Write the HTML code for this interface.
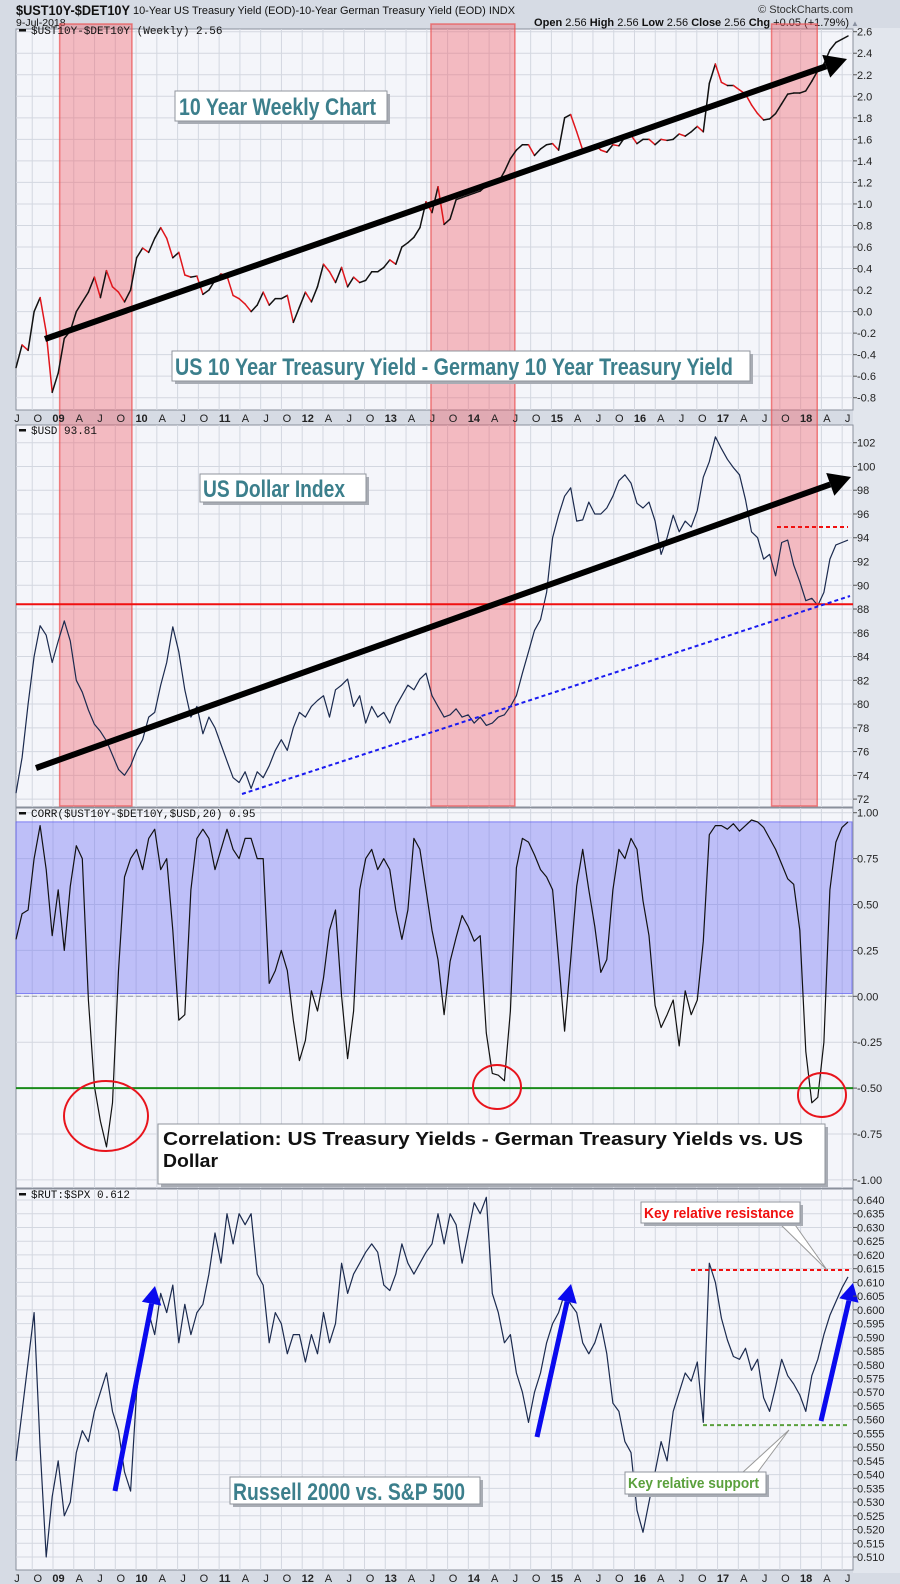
<!DOCTYPE html>
<html><head><meta charset="utf-8"><title>$UST10Y-$DET10Y</title>
<style>
html,body{margin:0;padding:0;background:#d6dbe4;}
svg{display:block;font-family:"Liberation Sans",sans-serif;}
</style></head>
<body>
<svg id="chart" width="900" height="1584" viewBox="0 0 900 1584" xmlns="http://www.w3.org/2000/svg">
<rect x="0" y="0" width="900" height="1584" fill="#d6dbe4"/>
<rect x="853" y="28" width="47" height="1545" fill="#e2e6ed"/>
<g>
<text x="16" y="15" font-size="14" font-weight="bold" fill="#111" textLength="114" lengthAdjust="spacingAndGlyphs">$UST10Y-$DET10Y</text>
<text x="133" y="14" font-size="11" fill="#111" textLength="382" lengthAdjust="spacingAndGlyphs">10-Year US Treasury Yield (EOD)-10-Year German Treasury Yield (EOD)  INDX</text>
<text x="16" y="26" font-size="10.5" fill="#111">9-Jul-2018</text>
<text x="853" y="13" font-size="11" fill="#333" text-anchor="end">© StockCharts.com</text>
<text x="849" y="26" font-size="11" fill="#111" text-anchor="end"><tspan font-weight="bold">Open</tspan> 2.56  <tspan font-weight="bold">High</tspan> 2.56  <tspan font-weight="bold">Low</tspan> 2.56  <tspan font-weight="bold">Close</tspan> 2.56  <tspan font-weight="bold">Chg</tspan> +0.05 (+1.79%)</text>
<text x="851" y="26" font-size="8" fill="#8890a0">▲</text>
</g>
<g id="layer-bg"></g>
<g id="layer-grid"></g>
<g id="layer-bands"></g>
<g id="layer-series"></g>
<g id="layer-annot"></g>
<g id="layer-axes"></g>
</svg>
<script>
const startDate = 2008.555;
const endDate = 2018.57;
const spreadValues = [-0.52,-0.31,-0.36,0.0,0.13,-0.19,-0.75,-0.57,-0.25,-0.18,0.0,0.09,0.18,0.32,0.13,0.38,0.23,0.18,0.09,0.2,0.5,0.59,0.55,0.68,0.78,0.68,0.5,0.55,0.34,0.32,0.33,0.16,0.2,0.29,0.35,0.33,0.15,0.12,0.07,0.0,0.06,0.18,0.06,0.12,0.12,0.15,-0.1,0.04,0.18,0.09,0.23,0.44,0.37,0.27,0.41,0.23,0.32,0.27,0.29,0.37,0.37,0.41,0.48,0.44,0.6,0.64,0.69,0.78,1.02,0.92,1.16,0.81,0.86,1.04,1.06,1.08,1.1,1.12,1.17,1.19,1.2,1.3,1.42,1.5,1.55,1.55,1.45,1.51,1.55,1.56,1.5,1.8,1.83,1.67,1.5,1.51,1.55,1.5,1.48,1.55,1.54,1.62,1.64,1.56,1.6,1.6,1.55,1.6,1.59,1.6,1.65,1.63,1.67,1.72,1.67,2.12,2.3,2.13,2.1,2.1,2.06,2.02,1.92,1.84,1.78,1.79,1.84,1.93,2.02,2.03,2.03,2.05,2.14,2.24,2.3,2.43,2.5,2.53,2.56];
const usdValues = [72.5,75.5,80,84,86.6,85.8,83.5,85.3,87,85.3,82,81,79.5,78.3,77.7,76.9,75.7,74.5,74,74.8,76.1,77,78.9,79.3,81.6,83.5,86.5,84.4,81.2,78.9,79.8,77.5,78.9,78,76.6,75.2,73.8,73.4,74.3,72.9,74.3,73.8,74.8,76.1,77,76.1,78,79.3,78.9,79.8,80.3,80.7,78.9,81.2,81.6,82.1,79.8,80.7,78.4,79.8,78.9,79.3,78.4,79.8,80.7,81.6,81.2,82.1,82.6,80.7,79.8,78.9,79.1,79.6,78.9,79.1,78.4,78.9,78.2,78.4,78.9,79.1,79.8,80.7,82.6,84.4,86.2,87.1,89.4,94,95.9,97.5,98.2,95.4,95.5,97,96,96,96.5,97.5,98.8,99.3,98.6,96.9,96.5,97,95.4,92.6,94,95.9,94.5,95.4,94.9,96.3,99.1,100.4,102.5,101.5,100.6,99.9,99.3,97.2,94.5,94,92.2,92.6,90.8,93.6,93.8,91.7,90.3,88.7,88.9,88.3,89.4,92.2,93.4,93.6,93.8];
const corrValues = [0.31,0.45,0.47,0.75,0.93,0.69,0.33,0.58,0.25,0.6,0.82,0.75,-0.02,-0.49,-0.68,-0.82,-0.58,0.14,0.65,0.75,0.8,0.69,0.86,0.91,0.69,0.75,0.36,-0.13,-0.1,0.58,0.86,0.91,0.86,0.69,0.8,0.91,0.8,0.75,0.86,0.86,0.75,0.75,0.07,0.14,0.25,0.14,-0.13,-0.35,-0.24,0.03,-0.08,0.1,0.36,0.47,0.0,-0.34,-0.08,0.58,0.75,0.8,0.69,0.75,0.69,0.47,0.31,0.47,0.86,0.8,0.58,0.36,0.2,-0.1,0.19,0.32,0.44,0.38,0.3,0.33,-0.2,-0.42,-0.43,-0.46,-0.08,0.7,0.86,0.84,0.77,0.69,0.65,0.58,0.2,-0.19,0.2,0.6,0.8,0.58,0.38,0.13,0.2,0.58,0.8,0.75,0.86,0.8,0.52,0.33,-0.05,-0.17,-0.1,-0.02,-0.27,0.03,-0.1,-0.02,0.3,0.88,0.93,0.93,0.91,0.94,0.9,0.93,0.96,0.95,0.92,0.86,0.8,0.72,0.64,0.61,0.36,-0.3,-0.58,-0.55,-0.25,0.58,0.84,0.92,0.95];
const rutSpxValues = [0.545,0.563,0.581,0.599,0.55,0.510,0.532,0.545,0.525,0.530,0.548,0.556,0.552,0.563,0.570,0.577,0.563,0.556,0.541,0.534,0.570,0.588,0.599,0.591,0.606,0.599,0.609,0.588,0.602,0.591,0.599,0.602,0.613,0.628,0.617,0.635,0.624,0.635,0.631,0.635,0.613,0.609,0.588,0.599,0.595,0.584,0.591,0.591,0.581,0.591,0.584,0.599,0.588,0.595,0.617,0.606,0.613,0.617,0.621,0.624,0.621,0.609,0.607,0.613,0.624,0.617,0.613,0.617,0.621,0.624,0.635,0.624,0.635,0.631,0.617,0.628,0.639,0.635,0.641,0.606,0.599,0.588,0.591,0.577,0.570,0.559,0.570,0.577,0.588,0.595,0.599,0.606,0.602,0.599,0.588,0.584,0.588,0.595,0.584,0.566,0.563,0.552,0.548,0.527,0.519,0.530,0.541,0.552,0.545,0.563,0.570,0.577,0.574,0.581,0.559,0.617,0.610,0.597,0.589,0.583,0.582,0.586,0.578,0.582,0.568,0.563,0.572,0.582,0.576,0.573,0.569,0.563,0.576,0.582,0.591,0.598,0.603,0.608,0.612];
const yTicks1 = [2.6,2.4,2.2,2.0,1.8,1.6,1.4,1.2,1.0,0.8,0.6,0.4,0.2,0.0,-0.2,-0.4,-0.6,-0.8];
const yTicks2 = [102,100,98,96,94,92,90,88,86,84,82,80,78,76,74,72];
const yTicks3 = [1.0,0.75,0.5,0.25,0.0,-0.25,-0.5,-0.75,-1.0];
const yTicks4 = [0.640,0.635,0.630,0.625,0.620,0.615,0.610,0.605,0.600,0.595,0.590,0.585,0.580,0.575,0.570,0.565,0.560,0.555,0.550,0.545,0.540,0.535,0.530,0.525,0.520,0.515,0.510];
const monthLetters = ["J","O","","A"];
const shadeStarts = [2009.08, 2013.55, 2017.65];
const shadeEnds = [2009.95, 2014.56, 2018.2];
const usdSupportLevel = 88.4;
const usdResistanceLevel = 94.9;
const corrBandTop = 0.95, corrBandBottom = 0.015, corrSupport = -0.5;
const rutResistance = 0.6145, rutSupport = 0.558;

const PL = 16, PR = 853;
function xOf(t){ return 53 + (t - 2009) * 83.07; }
function y1(v){ return 31.7 + (2.6 - v) * 107.65; }
function y2(v){ return 442.7 + (102 - v) * 11.88; }
function y3(v){ return 812.7 + (1 - v) * 183.6; }
function y4(v){ return 1200 + (0.640 - v) * 2746; }
const panels = [
 {top:29, bot:410, yf:y1, ticks:yTicks1, fmt:v=>v.toFixed(1), name:'spread'},
 {top:425, bot:807, yf:y2, ticks:yTicks2, fmt:v=>String(v), name:'usd'},
 {top:808, bot:1188, yf:y3, ticks:yTicks3, fmt:v=>v.toFixed(2), name:'correlation'},
 {top:1189, bot:1570, yf:y4, ticks:yTicks4, fmt:v=>v.toFixed(3), name:'rut-spx'}
];
const NS = 'http://www.w3.org/2000/svg';
function mk(tag, attrs, parent){
 const e = document.createElementNS(NS, tag);
 for (const k in attrs) e.setAttribute(k, attrs[k]);
 parent.appendChild(e); return e;
}
const L = id => document.getElementById(id);
function tOf(i, n){ return startDate + i * (endDate - startDate) / (n - 1); }

panels.forEach(p => {
 const bg = mk('rect', {x:PL, y:p.top, width:PR-PL, height:p.bot-p.top, fill:'#f4f5fa', stroke:'#8a909c', 'stroke-width':1}, L('layer-bg'));
 
 
 for (let k = 0; k < 41; k++) {
  const t = 2008.5 + k * 0.25; const x = xOf(t);
  if (x <= PL || x >= PR) continue;
  const g = mk('line', {x1:x, x2:x, y1:p.top, y2:p.bot, stroke:'#d3d7e0', 'stroke-width':1}, L('layer-grid'));
  
  
 }
 p.ticks.forEach(v => {
  const y = p.yf(v);
  const g = mk('line', {x1:PL, x2:PR, y1:y, y2:y, stroke:'#d3d7e0', 'stroke-width':1}, L('layer-grid'));
  
  
  const tk = mk('line', {x1:PR, x2:PR+4, y1:y, y2:y, stroke:'#555', 'stroke-width':1}, L('layer-axes'));
  
  
  const tx = mk('text', {x:PR+4, y:y+4, 'font-size':11, fill:'#222'}, L('layer-axes'));
  tx.textContent = p.fmt(v);
  
  
 });
});
[418, 1578].forEach(yy => {
 for (let k = 0; k < 41; k++) {
  const t = 2008.5 + k * 0.25; const x = xOf(t) + 5.5;
  if (x < PL || x > PR + 2) continue;
  const q = k % 4; let s, bold = false;
  if (q === 2) { s = String(Math.round(t)).slice(2); bold = true; } else s = monthLetters[q];
  const tx = mk('text', {x:x, y:yy + 4, 'font-size':11, 'text-anchor':'middle', fill:'#222', 'font-weight':bold?'bold':'normal'}, L('layer-axes'));
  tx.textContent = s;
  
  
 }
});
shadeStarts.forEach((s, i) => {
 const r = mk('rect', {x:xOf(s), y:24, width:xOf(shadeEnds[i]) - xOf(s), height:782, fill:'rgba(242,90,100,0.38)', stroke:'rgba(235,80,80,0.7)', 'stroke-width':1.5}, L('layer-bands'));
 
 
});
const cb = mk('rect', {x:PL, y:y3(corrBandTop), width:PR-PL-1, height:y3(corrBandBottom)-y3(corrBandTop), fill:'rgba(110,110,245,0.4)', stroke:'rgba(90,90,240,0.7)'}, L('layer-bands'));


const zl = mk('line', {x1:PL, x2:PR, y1:y3(0), y2:y3(0), stroke:'#9098a8', 'stroke-dasharray':'5,3'}, L('layer-bands'));



function pathFor(vals, yf){
 return vals.map((v, i) => (i ? 'L' : 'M') + xOf(tOf(i, vals.length)).toFixed(1) + ' ' + yf(v).toFixed(1)).join(' ');
}
for (let i = 1; i < spreadValues.length; i++) {
 const n = spreadValues.length;
 const seg = mk('line', {x1:xOf(tOf(i-1,n)), y1:y1(spreadValues[i-1]), x2:xOf(tOf(i,n)), y2:y1(spreadValues[i]), stroke: spreadValues[i] < spreadValues[i-1] ? '#e0161c' : '#111', 'stroke-width':1.5, 'stroke-linecap':'round'}, L('layer-series'));
 
 
}
[[usdValues, y2, 'usd-line'], [corrValues, y3, 'correlation-line'], [rutSpxValues, y4, 'rut-spx-line']].forEach(([vals, yf, nm]) => {
 const p = mk('path', {d:pathFor(vals, yf), fill:'none', stroke: nm === 'correlation-line' ? '#111' : '#1b2a4e', 'stroke-width':1.2, 'stroke-linejoin':'round'}, L('layer-series'));
 
 
});

function hline(v, yf, x1, x2, color, dash, w, nm){
 const l = mk('line', {x1:x1, x2:x2, y1:yf(v), y2:yf(v), stroke:color, 'stroke-width':w}, L('layer-annot'));
 if (dash) l.setAttribute('stroke-dasharray', dash);
 
 
}
hline(usdSupportLevel, y2, PL, PR, '#f01010', null, 2, 'usd-support-line');
hline(usdResistanceLevel, y2, 777, 848, '#f01010', '4,3', 2, 'usd-resistance-line');
hline(corrSupport, y3, PL, PR, '#1a8a1a', null, 2, 'correlation-support-line');
hline(rutResistance, y4, 691, 850, '#f01010', '4,3', 2, 'rut-resistance-line');
hline(rutSupport, y4, 703, 850, '#5aa03c', '4,3', 2, 'rut-support-line');
</script>
<script>
const A = document.getElementById('layer-annot');
function el(tag, attrs){ const e = document.createElementNS('http://www.w3.org/2000/svg', tag); for (const k in attrs) e.setAttribute(k, attrs[k]); A.appendChild(e); return e; }
function arrow(x1, y1, x2, y2, color, w, head, nm){
 const a = Math.atan2(y2 - y1, x2 - x1);
 const bx = x2 - Math.cos(a) * head, by = y2 - Math.sin(a) * head;
 const l = el('line', {x1:x1, y1:y1, x2:bx, y2:by, stroke:color, 'stroke-width':w, 'stroke-linecap':'butt'});
 
 
 const px = -Math.sin(a) * head * 0.55, py = Math.cos(a) * head * 0.55;
 const h = el('polygon', {points:`${x2},${y2} ${bx+px},${by+py} ${bx-px},${by-py}`, fill:color});
 
 
}
arrow(45, 339, 847, 59, '#000', 6, 22, 'spread-trend-arrow');
arrow(36, 768, 851, 477, '#000', 6, 22, 'usd-trend-arrow');
const bl = el('line', {x1:242, y1:794, x2:850, y2:596, stroke:'#1a1af0', 'stroke-width':2, 'stroke-dasharray':'4,3'});


arrow(115, 1491, 155, 1286, '#0a0aee', 5, 18, 'rut-rally-arrow-2009');
arrow(537, 1437, 571, 1284, '#0a0aee', 5, 18, 'rut-rally-arrow-2014');
arrow(821, 1421, 853, 1283, '#0a0aee', 5, 18, 'rut-rally-arrow-2018');
[[106,1116,42,35,'correlation-low-circle-2009'],[497,1087,24,22,'correlation-low-circle-2014'],[822,1095,24,22,'correlation-low-circle-2018']].forEach(c => {
 const e = el('ellipse', {cx:c[0], cy:c[1], rx:c[2], ry:c[3], fill:'none', stroke:'#e8141c', 'stroke-width':2});
 
 
});
const t1 = el('polygon', {points:'778,1222 793,1222 827,1270', fill:'#fff', stroke:'#999', 'stroke-width':1});


const t2 = el('polygon', {points:'742,1473 757,1473 789,1430', fill:'#fff', stroke:'#999', 'stroke-width':1});


function box(x, y, w, h, nm){
 const s = el('rect', {x:x+3, y:y+3, width:w, height:h, fill:'#a8acb4'});
 
 
 const b = el('rect', {x:x, y:y, width:w, height:h, fill:'#fff', stroke:'#8f949c', 'stroke-width':1});
 
 
}
function label(x, y, s, size, color, len, nm, weight){
 const t = el('text', {x:x, y:y, 'font-size':size, fill:color, 'font-weight':weight||'bold', textLength:len, lengthAdjust:'spacingAndGlyphs'});
 t.textContent = s;
 
 
}
box(175, 91, 212, 30, 'spread-title-box');
label(179, 115, '10 Year Weekly Chart', 24, '#3c7f8c', 197, 'spread-title-text');
box(172, 351, 578, 30, 'spread-subtitle-box');
label(175, 375, 'US 10 Year Treasury Yield - Germany 10 Year Treasury Yield', 24, '#3c7f8c', 558, 'spread-subtitle-text');
box(200, 474, 166, 28, 'usd-title-box');
label(203, 497, 'US Dollar Index', 24, '#3c7f8c', 142, 'usd-title-text');
box(158, 1124, 667, 60, 'correlation-title-box');
label(163, 1145, 'Correlation:  US Treasury Yields - German Treasury Yields vs. US', 18, '#111', 640, 'correlation-title-line1');
label(163, 1167, 'Dollar', 18, '#111', 55, 'correlation-title-line2');
box(641, 1202, 159, 21, 'resistance-callout-box');
label(644, 1218, 'Key relative resistance', 15, '#f01010', 150, 'resistance-callout-text');
box(625, 1472, 141, 22, 'support-callout-box');
label(628, 1488, 'Key relative support', 15, '#5aa03c', 131, 'support-callout-text');
box(230, 1477, 250, 27, 'rut-title-box');
label(233, 1500, 'Russell 2000 vs. S&P 500', 24, '#3c7f8c', 232, 'rut-title-text');
[[33,'$UST10Y-$DET10Y (Weekly) 2.56','spread-legend'],[433,'$USD 93.81','usd-legend'],[816,'CORR($UST10Y-$DET10Y,$USD,20) 0.95','correlation-legend'],[1197,'$RUT:$SPX 0.612','rut-spx-legend']].forEach(l => {
 const d = el('rect', {x:19, y:l[0]-4, width:7, height:2.5, fill:'#111'});
 
 
 const t = el('text', {x:31, y:l[0]+1, 'font-size':11, fill:'#111', 'font-family':'Liberation Mono, monospace'});
 t.textContent = l[1];
 
 
});
</script>
</body></html>
